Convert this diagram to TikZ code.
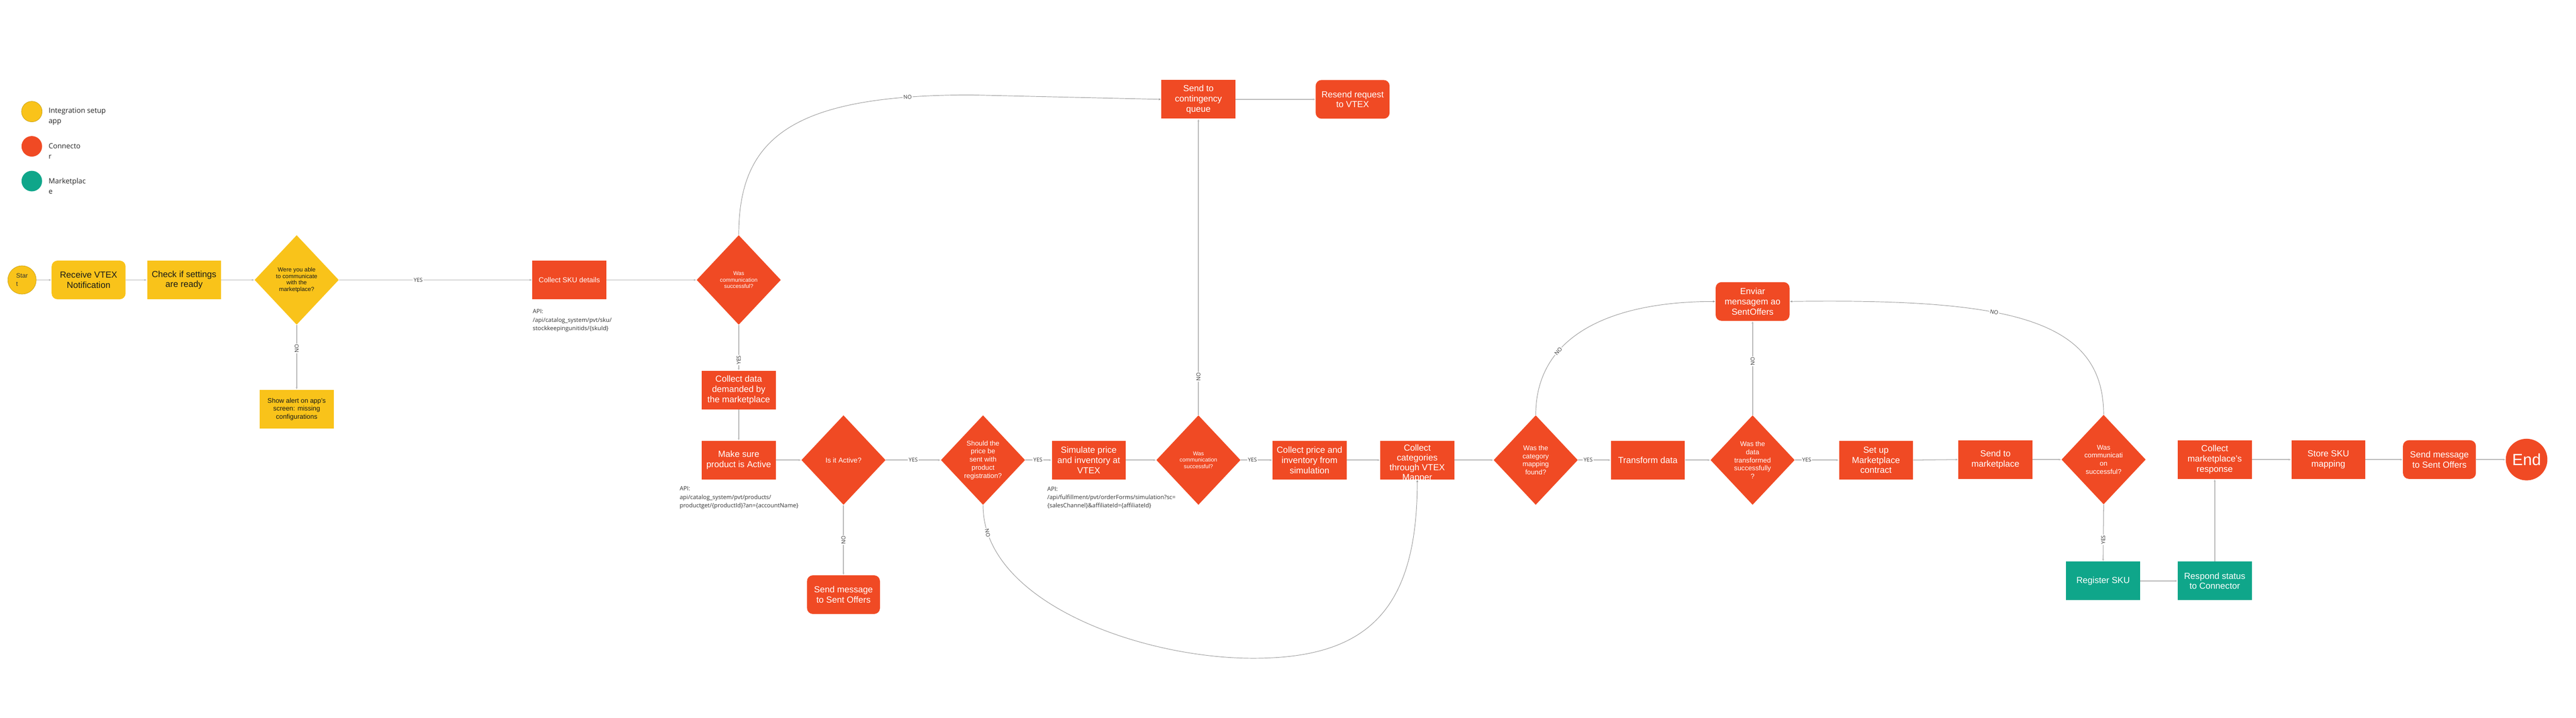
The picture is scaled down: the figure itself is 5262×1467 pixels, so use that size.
\documentclass[tikz,border=0pt]{standalone}
\usepackage{fontspec}
\setmainfont{Liberation Sans}
\newfontfamily\osans{Open Sans}
\usetikzlibrary{shapes.geometric,arrows.meta}
\definecolor{ylw}{HTML}{F9C31A}
\definecolor{ylwd}{HTML}{C9A012}
\definecolor{rd}{HTML}{F04A24}
\definecolor{grn}{HTML}{0FA68A}
\definecolor{lnc}{HTML}{B8B8B8}
\definecolor{crv}{HTML}{999999}
\begin{document}
\begin{tikzpicture}[x=0.5pt,y=-0.5pt,
  box/.style={rectangle, minimum width=75.5pt, minimum height=39.5pt, inner sep=1pt, align=center, font=\fontsize{9}{10.4}\selectfont},
  ybox/.style={box, fill=ylw, text=black!90},
  rbox/.style={box, fill=rd, text=white},
  gbox/.style={box, fill=grn, text=white},
  rnd/.style={rounded corners=6pt},
  dia/.style={diamond, minimum width=86pt, minimum height=91.5pt, inner sep=0pt, align=center},
  ydia/.style={dia, fill=ylw, text=black!90},
  rdia/.style={dia, fill=rd, text=white},
  conn/.style={draw=lnc, line width=0.8pt, -{Latex[length=2.5pt,width=2pt]}},
  curv/.style={draw=crv, line width=0.5pt, -{Latex[length=2.5pt,width=2pt]}},
  lbl/.style={fill=white, inner sep=0.8pt, font=\osans\fontsize{5.5}{5.5}\selectfont, text=black!80},
  api/.style={anchor=west, align=left, font=\osans\fontsize{6}{8.5}\selectfont, text=black!80, inner sep=0pt},
  leg/.style={anchor=west, align=left, font=\osans\fontsize{7.3}{10.5}\selectfont, text=black!85, inner sep=0pt},
  legc/.style={circle, minimum size=21pt, inner sep=0pt},
]
\useasboundingbox (0,0) rectangle (5262,1467);

% legend
\node[legc, fill=ylw, draw=ylwd, line width=0.4pt] (lg1) at (65,228) {};
\node[legc, fill=rd] (lg2) at (65,299) {};
\node[legc, fill=grn] (lg3) at (65,370) {};
\node[leg] (lt1) at (99,238) {Integration setup\\app};
\node[leg] (lt2) at (99,309) {Connecto\\r};
\node[leg] (lt3) at (99,380) {Marketplac\\e};

% row 1
\node[circle, minimum size=29pt, inner sep=0pt, fill=ylw, draw=ylwd, line width=0.4pt, align=left, font=\fontsize{6.5}{8.5}\selectfont, text=black!80] (start) at (45,572) {Star\\t};
\node[ybox, rnd] (recv) at (181,572) {Receive VTEX\\Notification};
\node[ybox] (check) at (376,572) {Check if settings\\are ready};
\node[ydia, font=\fontsize{6}{6.6}\selectfont] (d1) at (606,572) {Were you able\\to communicate\\with the\\marketplace?};
\node[ybox, font=\fontsize{6.8}{8.2}\selectfont] (alert) at (606,836) {Show alert on app's\\screen: missing\\configurations};
\node[rbox, font=\fontsize{7.3}{8.5}\selectfont] (sku) at (1163,572) {Collect SKU details};
\node[api] (apisku) at (1088,655) {API:\\/api/catalog\_system/pvt/sku/\\stockkeepingunitids/\{skuId\}};
\node[rdia, font=\fontsize{5.7}{6.6}\selectfont] (was1) at (1509,572) {Was\\communication\\successful?};
\node[rbox] (collect) at (1509,797) {Collect data\\demanded by\\the marketplace};
\node[rbox] (make) at (1509,940) {Make sure\\product is Active};
\node[api] (apiprod) at (1388,1017) {API:\\api/catalog\_system/pvt/products/\\productget/\{productId\}?an=\{accountName\}};
\node[rdia, font=\fontsize{7.2}{8.4}\selectfont] (active) at (1723,940) {Is it Active?};
\node[rbox, rnd, minimum width=74.5pt] (sendl) at (1723,1215) {Send message\\to Sent Offers};
\node[rdia, font=\fontsize{7}{8.3}\selectfont] (price) at (2008,940) {Should the\\price be\\sent with\\product\\registration?};
\node[rbox] (sim) at (2224,940) {Simulate price\\and inventory at\\VTEX};
\node[api] (apisim) at (2139,1017) {API:\\/api/fulfillment/pvt/orderForms/simulation?sc=\\\{salesChannel\}\&affiliateId=\{affiliateId\}};
\node[rdia, font=\fontsize{5.7}{6.6}\selectfont] (was2) at (2448,940) {Was\\communication\\successful?};
\node[rbox] (cont) at (2448,203) {Send to\\contingency\\queue};
\node[rbox, rnd] (resend) at (2763,203) {Resend request\\to VTEX};
\node[rbox] (cpi) at (2675,940) {Collect price and\\inventory from\\simulation};
\node[rbox, label={[text=white, align=center, font=\fontsize{9}{10}\selectfont, yshift=-3.5pt]center:Collect\\categories\\through VTEX\\Mapper}] (cat) at (2895,940) {};
\node[rdia, font=\fontsize{7}{8.3}\selectfont] (catd) at (3137,940) {Was the\\category\\mapping\\found?};
\node[rbox] (trans) at (3366,940) {Transform data};
\node[rdia, font=\fontsize{7}{8.3}\selectfont] (td) at (3580,940) {Was the\\data\\transformed\\successfully\\?};
\node[rbox, rnd] (enviar) at (3580,616) {Enviar\\mensagem ao\\SentOffers};
\node[rbox] (setup) at (3832,940) {Set up\\Marketplace\\contract};
\node[rbox] (sendm) at (4076,939) {Send to\\marketplace};
\node[rdia, font=\fontsize{7}{8.3}\selectfont] (d3) at (4297,939) {Was\\communicati\\on\\successful?};
\node[rbox] (cmr) at (4524,939) {Collect\\marketplace's\\response};
\node[gbox] (reg) at (4296,1187) {Register SKU};
\node[gbox] (resp) at (4524,1187) {Respond status\\to Connector};
\node[rbox] (store) at (4756,939) {Store SKU\\mapping};
\node[rbox, rnd, minimum width=74.5pt] (sendr) at (4983,939) {Send message\\to Sent Offers};
\node[circle, fill=rd, text=white, minimum size=42.5pt, inner sep=0pt, font=\fontsize{16.5}{18}\selectfont] (end) at (5161,939) {End};

% connectors
\draw[conn] (start) -- (recv);
\draw[conn] (recv) -- (check);
\draw[conn] (check) -- (d1);
\draw[conn] (d1.east) -- (sku.west) node[lbl,pos=0.41]{YES};
\draw[conn] (d1.south) -- (alert.north) node[lbl,pos=0.36,rotate=90]{NO};
\draw[conn] (sku.east) -- (was1.west);
\draw[conn] (was1.south) -- (collect.north) node[lbl,pos=0.77,rotate=90]{YES};
\draw[conn] (collect.south) -- (make.north);
\draw[curv] (was1.north) .. controls (1509,280) and (1620,194) .. (1983,194) node[lbl,sloped,pos=0.87]{NO} -- (cont.west);
\draw[conn] (make.east) -- (active.west);
\draw[conn] (active.east) -- (price.west) node[lbl,pos=0.5]{YES};
\draw[conn] (active.south) -- (sendl.north) node[lbl,pos=0.5,rotate=90]{NO};
\draw[conn] (price.east) -- (sim.west) node[lbl,pos=0.48]{YES};
\draw[curv] (price.south) .. controls (2008,1230) and (2330,1345) .. (2560,1345) node[lbl,pos=0.1,rotate=-78]{NO} .. controls (2790,1345) and (2895,1250) .. (cat.south);
\draw[conn] (sim.east) -- (was2.west);
\draw[conn] (was2.east) -- (cpi.west) node[lbl,pos=0.37]{YES};
\draw[conn] (was2.north) -- (cont.south) node[lbl,pos=0.13,rotate=90]{NO};
\draw[conn] (cont.east) -- (resend.west);
\draw[conn] (cpi.east) -- (cat.west);
\draw[conn] (cat.east) -- (catd.west);
\draw[conn] (catd.east) -- (trans.west) node[lbl,pos=0.31]{YES};
\draw[curv] (catd.north) .. controls (3137,680) and (3300,616) .. (enviar.west) node[lbl,sloped,pos=0.32]{NO};
\draw[conn] (trans.east) -- (td.west);
\draw[conn] (td.east) -- (setup.west) node[lbl,pos=0.27]{YES};
\draw[conn] (td.north) -- (enviar.south) node[lbl,pos=0.57,rotate=90]{NO};
\draw[conn] (setup.east) -- (sendm.west);
\draw[conn] (sendm.east) -- (d3.west);
\draw[curv] (d3.north) .. controls (4297,650) and (4100,610) .. (enviar.east) node[lbl,sloped,pos=0.6]{NO};
\draw[conn] (d3.south) -- (reg.north) node[lbl,pos=0.62,rotate=90]{YES};
\draw[conn] (reg.east) -- (resp.west);
\draw[conn] (resp.north) -- (cmr.south);
\draw[conn] (cmr.east) -- (store.west);
\draw[conn] (store.east) -- (sendr.west);
\draw[conn] (sendr.east) -- (end.west);
\end{tikzpicture}
\end{document}
